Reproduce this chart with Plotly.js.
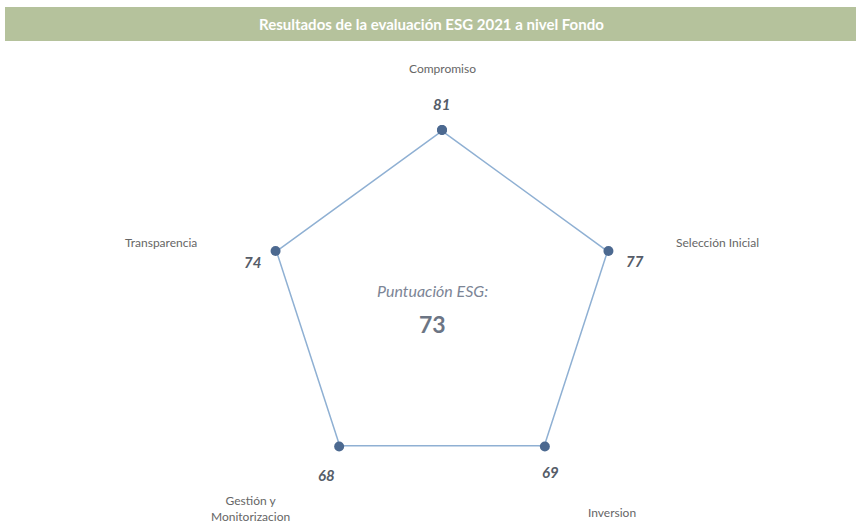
<!DOCTYPE html>
<html>
<head>
<meta charset="utf-8">
<script src="https://cdn.plot.ly/plotly-3.0.1.min.js"></script>
<style>html,body{margin:0;padding:0;background:#fff;}#chart{width:862px;height:531px;}</style>
</head>
<body>
<div id="chart"></div>
<script>
// ---- data ----
const categories = ["Compromiso", "Selección Inicial", "Inversion", "Gestión y<br>Monitorizacion", "Transparencia"];
const scores = [81, 77, 69, 68, 74];
const totalLabel = "Puntuación ESG:";
const totalScore = 73;
const chartTitle = "Resultados de la evaluación ESG 2021 a nivel Fondo";

// ---- layout helpers (pixel positions -> paper) ----
const W = 862, H = 531;
const px = x => x / W;
const py = y => 1 - y / H;

// label placements (pixels) for category names and score values
const catPos = [[442, 68], [717, 242], [612, 512], [250, 508], [161, 242]];
const valPos = [[441, 104], [635, 261], [550, 472], [326, 475], [252, 262]];

const closedTheta = categories.concat([categories[0]]);
const closedScores = scores.concat([scores[0]]);

const trace = {
  type: "scatterpolar",
  theta: closedTheta,
  r: closedScores.map(() => 1), // regular pentagon, scores shown as labels
  customdata: closedScores,
  mode: "lines+markers",
  line: {color: "#8fb0d3", width: 3},
  marker: {color: "#4c6990", size: 10},
  hoverinfo: "skip"
};

const annotations = [];
annotations.push({
  xref: "paper", yref: "paper", x: 0.5, y: py(24), xanchor: "center", yanchor: "middle",
  text: "<b>" + chartTitle + "</b>", showarrow: false,
  font: {family: "Lato, 'Open Sans', sans-serif", size: 15, color: "#ffffff"}
});
categories.forEach((c, i) => {
  annotations.push({
    xref: "paper", yref: "paper", x: px(catPos[i][0]), y: py(catPos[i][1]),
    xanchor: "center", yanchor: "middle", text: c, showarrow: false,
    font: {family: "Lato, 'Open Sans', sans-serif", size: 12, color: "#666666"}
  });
});
scores.forEach((v, i) => {
  annotations.push({
    xref: "paper", yref: "paper", x: px(valPos[i][0]), y: py(valPos[i][1]),
    xanchor: "center", yanchor: "middle", text: "<b><i>" + v + "</i></b>", showarrow: false,
    font: {family: "Lato, 'Open Sans', sans-serif", size: 15, color: "#555c68"}
  });
});
annotations.push({
  xref: "paper", yref: "paper", x: px(432), y: py(291), xanchor: "center", yanchor: "middle",
  text: "<i>" + totalLabel + "</i>", showarrow: false,
  font: {family: "Lato, 'Open Sans', sans-serif", size: 16, color: "#7c8596"}
});
annotations.push({
  xref: "paper", yref: "paper", x: px(432), y: py(324), xanchor: "center", yanchor: "middle",
  text: "<b>" + totalScore + "</b>", showarrow: false,
  font: {family: "Lato, 'Open Sans', sans-serif", size: 23, color: "#6c7584"}
});

const cx = 442, cy = 305, R = 175;
const layout = {
  width: W, height: H,
  margin: {l: 0, r: 0, t: 0, b: 0},
  paper_bgcolor: "#ffffff",
  showlegend: false,
  polar: {
    domain: {x: [px(cx - R), px(cx + R)], y: [py(cy + R), py(cy - R)]},
    bgcolor: "rgba(0,0,0,0)",
    gridshape: "linear",
    radialaxis: {range: [0, 1], visible: false, showgrid: false, showline: false, showticklabels: false, ticks: ""},
    angularaxis: {rotation: 90, direction: "clockwise", showgrid: false, showline: false, showticklabels: false, ticks: "", categoryorder: "array", categoryarray: categories}
  },
  shapes: [{
    type: "rect", xref: "paper", yref: "paper",
    x0: px(5), x1: px(856), y0: py(41), y1: py(7),
    fillcolor: "#b5c29c", line: {width: 0}, layer: "below"
  }],
  annotations: annotations
};

Plotly.newPlot("chart", [trace], layout, {displayModeBar: false, staticPlot: true});
</script>
</body>
</html>
